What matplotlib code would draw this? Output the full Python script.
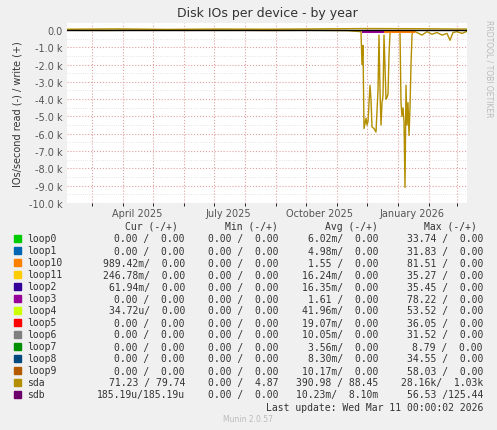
import matplotlib
matplotlib.use("Agg")
import matplotlib.pyplot as plt
import matplotlib.dates as mdates
import numpy as np
from datetime import datetime, timedelta

W, H = 497, 431
start = datetime(2025, 2, 4)

# sda read samples: (day offset from start, value in IOs/s, negative = read)
sda_days = [0, 40, 80, 120, 160, 200, 240, 280, 294, 295, 296, 297, 299, 300, 301, 303, 304, 305, 307, 309,
            311, 312, 313, 314, 315, 316, 317, 319, 320, 321, 322, 323, 324, 325, 330, 333, 334, 335, 336, 337,
            338, 339, 340, 341, 342, 343, 344, 345, 346, 350, 355, 360, 365, 370, 375, 380, 383, 386, 390, 395, 400]
sda_vals = [-20, -30, -10, -25, -15, -30, -20, -40, -100, -2000, -900, -5700, -5100, -5500, -5300, -3200, -4000, -5600,
            -5700, -5900, -3500, -300, -3500, -5500, -4200, -3800, -300, -4000, -3900, -3700, -1500, -200, -50, -80, -60,
            -100, -4200, -5000, -4500, -5300, -9100, -3200, -5500, -4200, -6100, -4500, -2000, -300, -50, -150,
            -300, -100, -250, -150, -300, -200, -600, -150, -100, -200, -80]
sda_write_days = [0, 50, 100, 150, 200, 250, 300, 350, 400]
sda_write_vals = [40, 60, 30, 50, 40, 60, 80, 70, 50]
sdb_days = [296, 318]
sdb_vals = [-40, -40]
loop10_days = [318, 346]
loop10_vals = [-40, -40]

names = ["loop0", "loop1", "loop10", "loop11", "loop2", "loop3", "loop4", "loop5", "loop6", "loop7",
         "loop8", "loop9", "sda", "sdb"]
colors = ["#00CC00", "#0066B3", "#FF8000", "#FFCC00", "#330099", "#990099", "#CCFF00", "#FF0000",
          "#808080", "#008F00", "#00487D", "#B35A00", "#B38F00", "#6B006B"]
cur = ["0.00 /  0.00", "0.00 /  0.00", "989.42m/  0.00", "246.78m/  0.00", "61.94m/  0.00", "0.00 /  0.00",
       "34.72u/  0.00", "0.00 /  0.00", "0.00 /  0.00", "0.00 /  0.00", "0.00 /  0.00", "0.00 /  0.00",
       "71.23 / 79.74", "185.19u/185.19u"]
mins = ["0.00 /  0.00"] * 12 + ["0.00 /  4.87", "0.00 /  0.00"]
avgs = ["6.02m/  0.00", "4.98m/  0.00", "1.55 /  0.00", "16.24m/  0.00", "16.35m/  0.00", "1.61 /  0.00",
        "41.96m/  0.00", "19.07m/  0.00", "10.05m/  0.00", "3.56m/  0.00", "8.30m/  0.00", "10.17m/  0.00",
        "390.98 / 88.45", "10.23m/  8.10m"]
maxs = ["33.74 /  0.00", "31.83 /  0.00", "81.51 /  0.00", "35.27 /  0.00", "35.45 /  0.00", "78.22 /  0.00",
        "53.52 /  0.00", "36.05 /  0.00", "31.52 /  0.00", "8.79 /  0.00", "34.55 /  0.00", "58.03 /  0.00",
        "28.16k/  1.03k", "56.53 /125.44"]

fig = plt.figure(figsize=(W / 100, H / 100), dpi=100, facecolor="#F0F0F0")
ax = fig.add_axes([67 / W, 1 - 204 / H, 400 / W, 180 / H])
ax.set_facecolor("white")

def dts(days):
    return [start + timedelta(days=d) for d in days]

ax.plot(dts(sda_days), sda_vals, color="#B38F00", lw=1)
ax.plot(dts(sda_write_days), sda_write_vals, color="#B38F00", lw=1)
ax.plot(dts(sdb_days), sdb_vals, color="#990099", lw=2.2)
ax.plot(dts(loop10_days), loop10_vals, color="#FF8000", lw=2.2)
ax.axhline(0, color="black", lw=1)

ax.set_xlim(start, start + timedelta(days=400))
ax.set_ylim(-10000, 400)
yt = np.arange(-10000, 1, 1000)
ax.set_yticks(yt)
ax.set_yticklabels(["0.0" if v == 0 else f"{v/1000:.1f} k" for v in yt], fontsize=7, color="#555555")
ax.set_yticks(np.arange(-10000, 1, 500), minor=True)
ax.xaxis.set_major_locator(mdates.MonthLocator(bymonth=[4, 7, 10, 1], bymonthday=15))
ax.xaxis.set_major_formatter(mdates.DateFormatter("%B %Y"))
ax.xaxis.set_minor_locator(mdates.MonthLocator(bymonthday=1))
ax.tick_params(axis="x", labelsize=7, colors="#555555", length=0)
ax.tick_params(axis="y", length=0, which="both")
ax.grid(True, which="major", axis="y", color="#E0A0A0", ls=":", lw=0.8)
ax.grid(True, which="minor", axis="y", color="#DDDDDD", ls=":", lw=0.6)
ax.grid(True, which="minor", axis="x", color="#E0A0A0", ls=":", lw=0.8)
for s in ax.spines.values():
    s.set_visible(False)
ax.set_title("Disk IOs per device - by year", fontsize=9, color="#333333", pad=5)
ax.set_ylabel("IOs/second read (-) / write (+)", fontsize=7, color="#333333")
fig.text(489 / W, 1 - 20 / H, "RRDTOOL / TOBI OETIKER", rotation=270, fontsize=5.5, color="#BBBBBB",
         ha="center", va="top")

mono = dict(family="DejaVu Sans Mono", fontsize=7, color="#333333")
def y(px):
    return 1 - px / H
fig.text(178 / W, y(227), "Cur (-/+)", ha="right", va="center", **mono)
fig.text(278 / W, y(227), "Min (-/+)", ha="right", va="center", **mono)
fig.text(378 / W, y(227), "Avg (-/+)", ha="right", va="center", **mono)
fig.text(477 / W, y(227), "Max (-/+)", ha="right", va="center", **mono)
for i, n in enumerate(names):
    py = 239.5 + 12 * i
    fig.patches.append(plt.Rectangle((14 / W, y(py + 3.5)), 7 / W, 7 / H, transform=fig.transFigure,
                                     color=colors[i]))
    fig.text(27 / W, y(py), n, ha="left", va="center", **mono)
    fig.text(185 / W, y(py), cur[i], ha="right", va="center", **mono)
    fig.text(279 / W, y(py), mins[i], ha="right", va="center", **mono)
    fig.text(378 / W, y(py), avgs[i], ha="right", va="center", **mono)
    fig.text(483 / W, y(py), maxs[i], ha="right", va="center", **mono)
fig.text(483 / W, y(408), "Last update: Wed Mar 11 00:00:02 2026", ha="right", va="center", **mono)
fig.text(248 / W, y(420), "Munin 2.0.57", ha="center", va="center", fontsize=5.5, color="#BBBBBB")

fig.savefig("out.png", dpi=100, facecolor=fig.get_facecolor())
